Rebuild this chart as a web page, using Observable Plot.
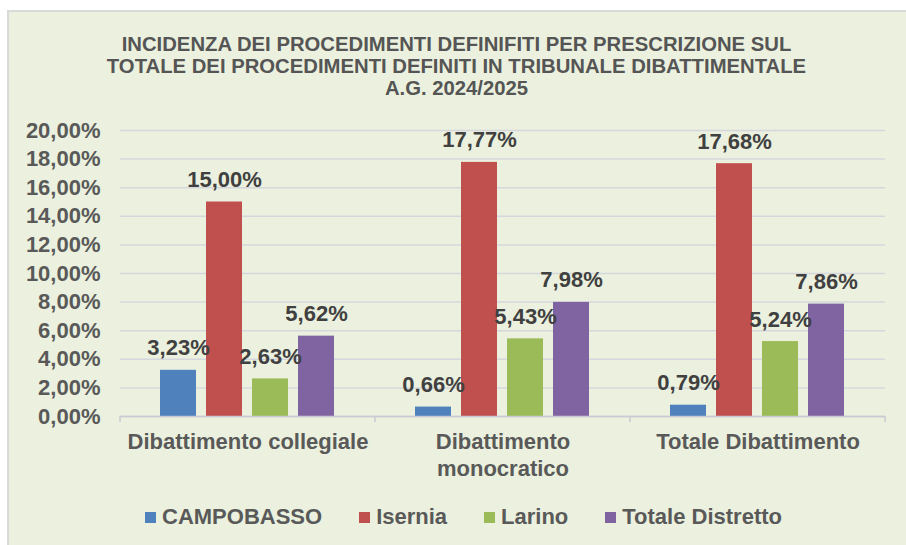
<!DOCTYPE html>
<html>
<head>
<meta charset="utf-8">
<script src="https://cdn.jsdelivr.net/npm/d3@7"></script>
<script src="https://cdn.jsdelivr.net/npm/@observablehq/plot@0.6"></script>
<style>
  body { margin: 0; background: #ffffff; width: 906px; height: 545px; overflow: hidden; font-family: "Liberation Sans", Arial, sans-serif; }
  #frame { position: absolute; left: 7px; top: 10px; width: 899px; height: 535px; background: #ebf1de; border-top: 2px solid #d9d9d9; border-left: 2px solid #d9d9d9; box-sizing: border-box; }
  #title { position: absolute; left: 7px; top: 33px; width: 899px; text-align: center; font-family: "Liberation Sans Narrow", "Arial Narrow", "Liberation Sans", sans-serif; font-weight: bold; font-size: 20.3px; line-height: 22px; color: #555555; }
  #chart { position: absolute; left: 0; top: 110px; }
  #legend { position: absolute; left: 145px; top: 506px; height: 22px; display: flex; align-items: center; font-weight: bold; font-size: 22px; color: #595959; white-space: nowrap; }
  .item { display: flex; align-items: center; margin-right: 37px; }
  .sw { width: 11px; height: 11px; margin-right: 6px; }
</style>
</head>
<body>
<div id="frame"></div>
<div id="title">INCIDENZA DEI PROCEDIMENTI DEFINIFITI PER PRESCRIZIONE SUL<br>TOTALE DEI PROCEDIMENTI DEFINITI IN TRIBUNALE DIBATTIMENTALE<br>A.G. 2024/2025</div>
<div id="chart"></div>
<div id="legend"></div>
<script>
const groups = ["Dibattimento collegiale", "Dibattimento monocratico", "Totale Dibattimento"];
const groupLabels = ["Dibattimento collegiale", "Dibattimento\nmonocratico", "Totale Dibattimento"];
const series = ["CAMPOBASSO", "Isernia", "Larino", "Totale Distretto"];
const campobasso = [3.23, 0.66, 0.79];
const isernia = [15.00, 17.77, 17.68];
const larino = [2.63, 5.43, 5.24];
const totaleDistretto = [5.62, 7.98, 7.86];
const yTicks = [0, 2, 4, 6, 8, 10, 12, 14, 16, 18, 20];
const colors = ["#4F81BD", "#C0504D", "#9BBB59", "#8064A2"];

const seriesValues = [campobasso, isernia, larino, totaleDistretto];
const data = [];
groups.forEach((g, gi) => {
  series.forEach((s, si) => {
    data.push({group: g, series: s, value: seriesValues[si][gi]});
  });
});

const fmt = v => v.toFixed(2).replace(".", ",") + "%";

const chart = Plot.plot({
  width: 906,
  height: 380,
  marginLeft: 120,
  marginRight: 21,
  marginTop: 20,
  marginBottom: 74,
  style: {background: "transparent", fontFamily: "'Liberation Sans', Arial, sans-serif", overflow: "visible"},
  fx: {domain: groups, padding: 0, label: null},
  x: {domain: series, paddingInner: 0.215, paddingOuter: 0.85, axis: null},
  y: {domain: [0, 20], axis: null},
  color: {domain: series, range: colors},
  marks: [
    Plot.gridY(yTicks, {stroke: "#d5d7dd", strokeOpacity: 1, strokeWidth: 1.5}),
    Plot.axisY(yTicks, {tickSize: 0, tickPadding: 20, tickFormat: fmt, fontSize: 22, fontWeight: "bold", fill: "#595959", label: null}),
    Plot.axisFx({anchor: "bottom", tickSize: 0, tickPadding: 14, fontSize: 22, fontWeight: "bold", fill: "#595959", lineHeight: 1.2, label: null,
      tickFormat: d => groupLabels[groups.indexOf(d)]}),
    Plot.barY(data, {fx: "group", x: "series", y: "value", fill: "series"}),
    Plot.ruleY([0], {stroke: "#c9cad2", strokeWidth: 1.5}),
    Plot.text(data, {fx: "group", x: "series", y: "value", text: d => fmt(d.value), dy: -22, fontSize: 22, fontWeight: "bold", fill: "#404040"})
  ]
});

// boundary tick marks at the category edges, from the fx scale
const fxs = chart.scale("fx");
const ys = chart.scale("y");
const y0 = ys.apply(0);
const edges = groups.map(g => fxs.apply(g)).concat([fxs.apply(groups[groups.length - 1]) + fxs.bandwidth]);
d3.select(chart).append("g")
  .selectAll("line").data(edges).join("line")
  .attr("x1", d => d).attr("x2", d => d)
  .attr("y1", y0).attr("y2", y0 + 6)
  .attr("stroke", "#c9cad2").attr("stroke-width", 1.5);

document.getElementById("chart").appendChild(chart);

const legend = d3.select("#legend");
series.forEach((s, i) => {
  const it = legend.append("div").attr("class", "item");
  it.append("div").attr("class", "sw").style("background", colors[i]);
  it.append("span").text(s);
});
</script>
</body>
</html>
